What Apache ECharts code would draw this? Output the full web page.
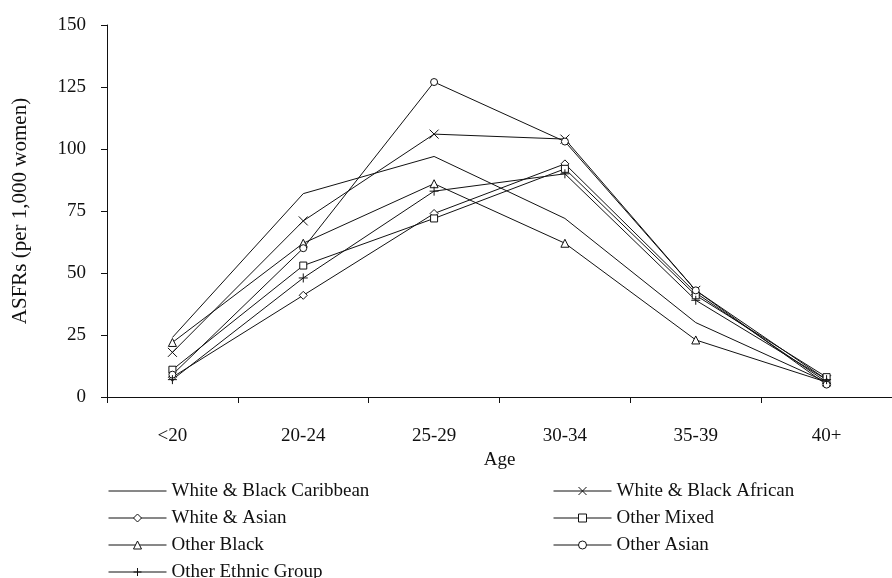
<!DOCTYPE html>
<html>
<head>
<meta charset="utf-8">
<script src="https://cdn.jsdelivr.net/npm/echarts@6/dist/echarts.min.js"></script>
<style>
  html, body { margin: 0; padding: 0; background: #fff; }
  #chart { width: 892px; height: 578px; }
</style>
</head>
<body>
<div id="chart"></div>
<script>
// Age-specific fertility rates by ethnic group (births per 1,000 women)
const ageGroups = ['<20', '20-24', '25-29', '30-34', '35-39', '40+'];
const yTicks = [0, 25, 50, 75, 100, 125, 150];

const whiteBlackCaribbean = [24, 82, 97, 72, 30, 6];
const whiteBlackAfrican   = [18, 71, 106, 104, 43, 7];
const whiteAsian          = [8, 41, 74, 94, 42, 6];
const otherMixed          = [11, 53, 72, 92, 41, 8];
const otherBlack          = [22, 62, 86, 62, 23, 6];
const otherAsian          = [9, 60, 127, 103, 43, 5];
const otherEthnicGroup    = [7, 48, 83, 90, 39, 7];

const FONT = '"Liberation Serif", "Times New Roman", serif';
const INK = '#111';

const crossPath = 'path://M0,0L10,10M10,0L0,10';
const plusPath = 'path://M5,0L5,10M0,5L10,5';

function lineSeries(name, data, symbol, size) {
  return {
    name: name,
    type: 'line',
    data: data,
    symbol: symbol,
    symbolSize: size,
    showSymbol: symbol !== 'none',
    lineStyle: { color: INK, width: 1 },
    itemStyle: { color: '#fff', borderColor: INK, borderWidth: 1 },
    emphasis: { disabled: true },
    animation: false,
    z: 3
  };
}

const series = [
  lineSeries('White & Black Caribbean', whiteBlackCaribbean, 'none', 0),
  lineSeries('White & Black African', whiteBlackAfrican, crossPath, 9),
  lineSeries('White & Asian', whiteAsian, 'diamond', 8),
  lineSeries('Other Mixed', otherMixed, 'rect', 7),
  lineSeries('Other Black', otherBlack, 'triangle', 8),
  lineSeries('Other Asian', otherAsian, 'circle', 7),
  lineSeries('Other Ethnic Group', otherEthnicGroup, plusPath, 9)
];

const legendCommon = {
  orient: 'vertical',
  padding: 0,
  itemWidth: 58,
  itemHeight: 10,
  itemGap: 8,
  height: 120,
  selectedMode: false,
  lineStyle: { color: INK, width: 1 },
  itemStyle: { color: '#fff', borderColor: INK, borderWidth: 1 },
  textStyle: { fontFamily: FONT, fontSize: 19, color: INK, lineHeight: 19 }
};

const chart = echarts.init(document.getElementById('chart'), null, { renderer: 'canvas' });
chart.setOption({
  backgroundColor: '#fff',
  animation: false,
  grid: { left: 107, top: 25, width: 789, height: 372, containLabel: false },
  legend: [
    Object.assign({}, legendCommon, {
      left: 108, top: 481.5,
      data: [
        { name: 'White & Black Caribbean', icon: 'line' },
        'White & Asian', 'Other Black', 'Other Ethnic Group'
      ]
    }),
    Object.assign({}, legendCommon, {
      left: 553, top: 481.5,
      data: ['White & Black African', 'Other Mixed', 'Other Asian']
    })
  ],
  xAxis: {
    type: 'category',
    data: ageGroups,
    boundaryGap: true,
    name: 'Age',
    nameLocation: 'middle',
    nameGap: 48,
    nameTextStyle: { fontFamily: FONT, fontSize: 19, color: INK },
    axisLine: { lineStyle: { color: INK, width: 1 } },
    axisTick: { show: true, length: 6, inside: false, lineStyle: { color: INK } },
    axisLabel: { fontFamily: FONT, fontSize: 19, color: INK, margin: 30 },
    splitLine: { show: false }
  },
  yAxis: {
    type: 'value',
    min: yTicks[0],
    max: yTicks[yTicks.length - 1],
    interval: yTicks[1] - yTicks[0],
    name: 'ASFRs (per 1,000 women)',
    nameLocation: 'middle',
    nameGap: 76,
    nameTextStyle: { fontFamily: FONT, fontSize: 21, color: INK },
    axisLine: { show: true, lineStyle: { color: INK, width: 1 } },
    axisTick: { show: true, length: 6, inside: false, lineStyle: { color: INK } },
    axisLabel: { fontFamily: FONT, fontSize: 19, color: INK, margin: 21 },
    splitLine: { show: false }
  },
  series: series
});
</script>
</body>
</html>
